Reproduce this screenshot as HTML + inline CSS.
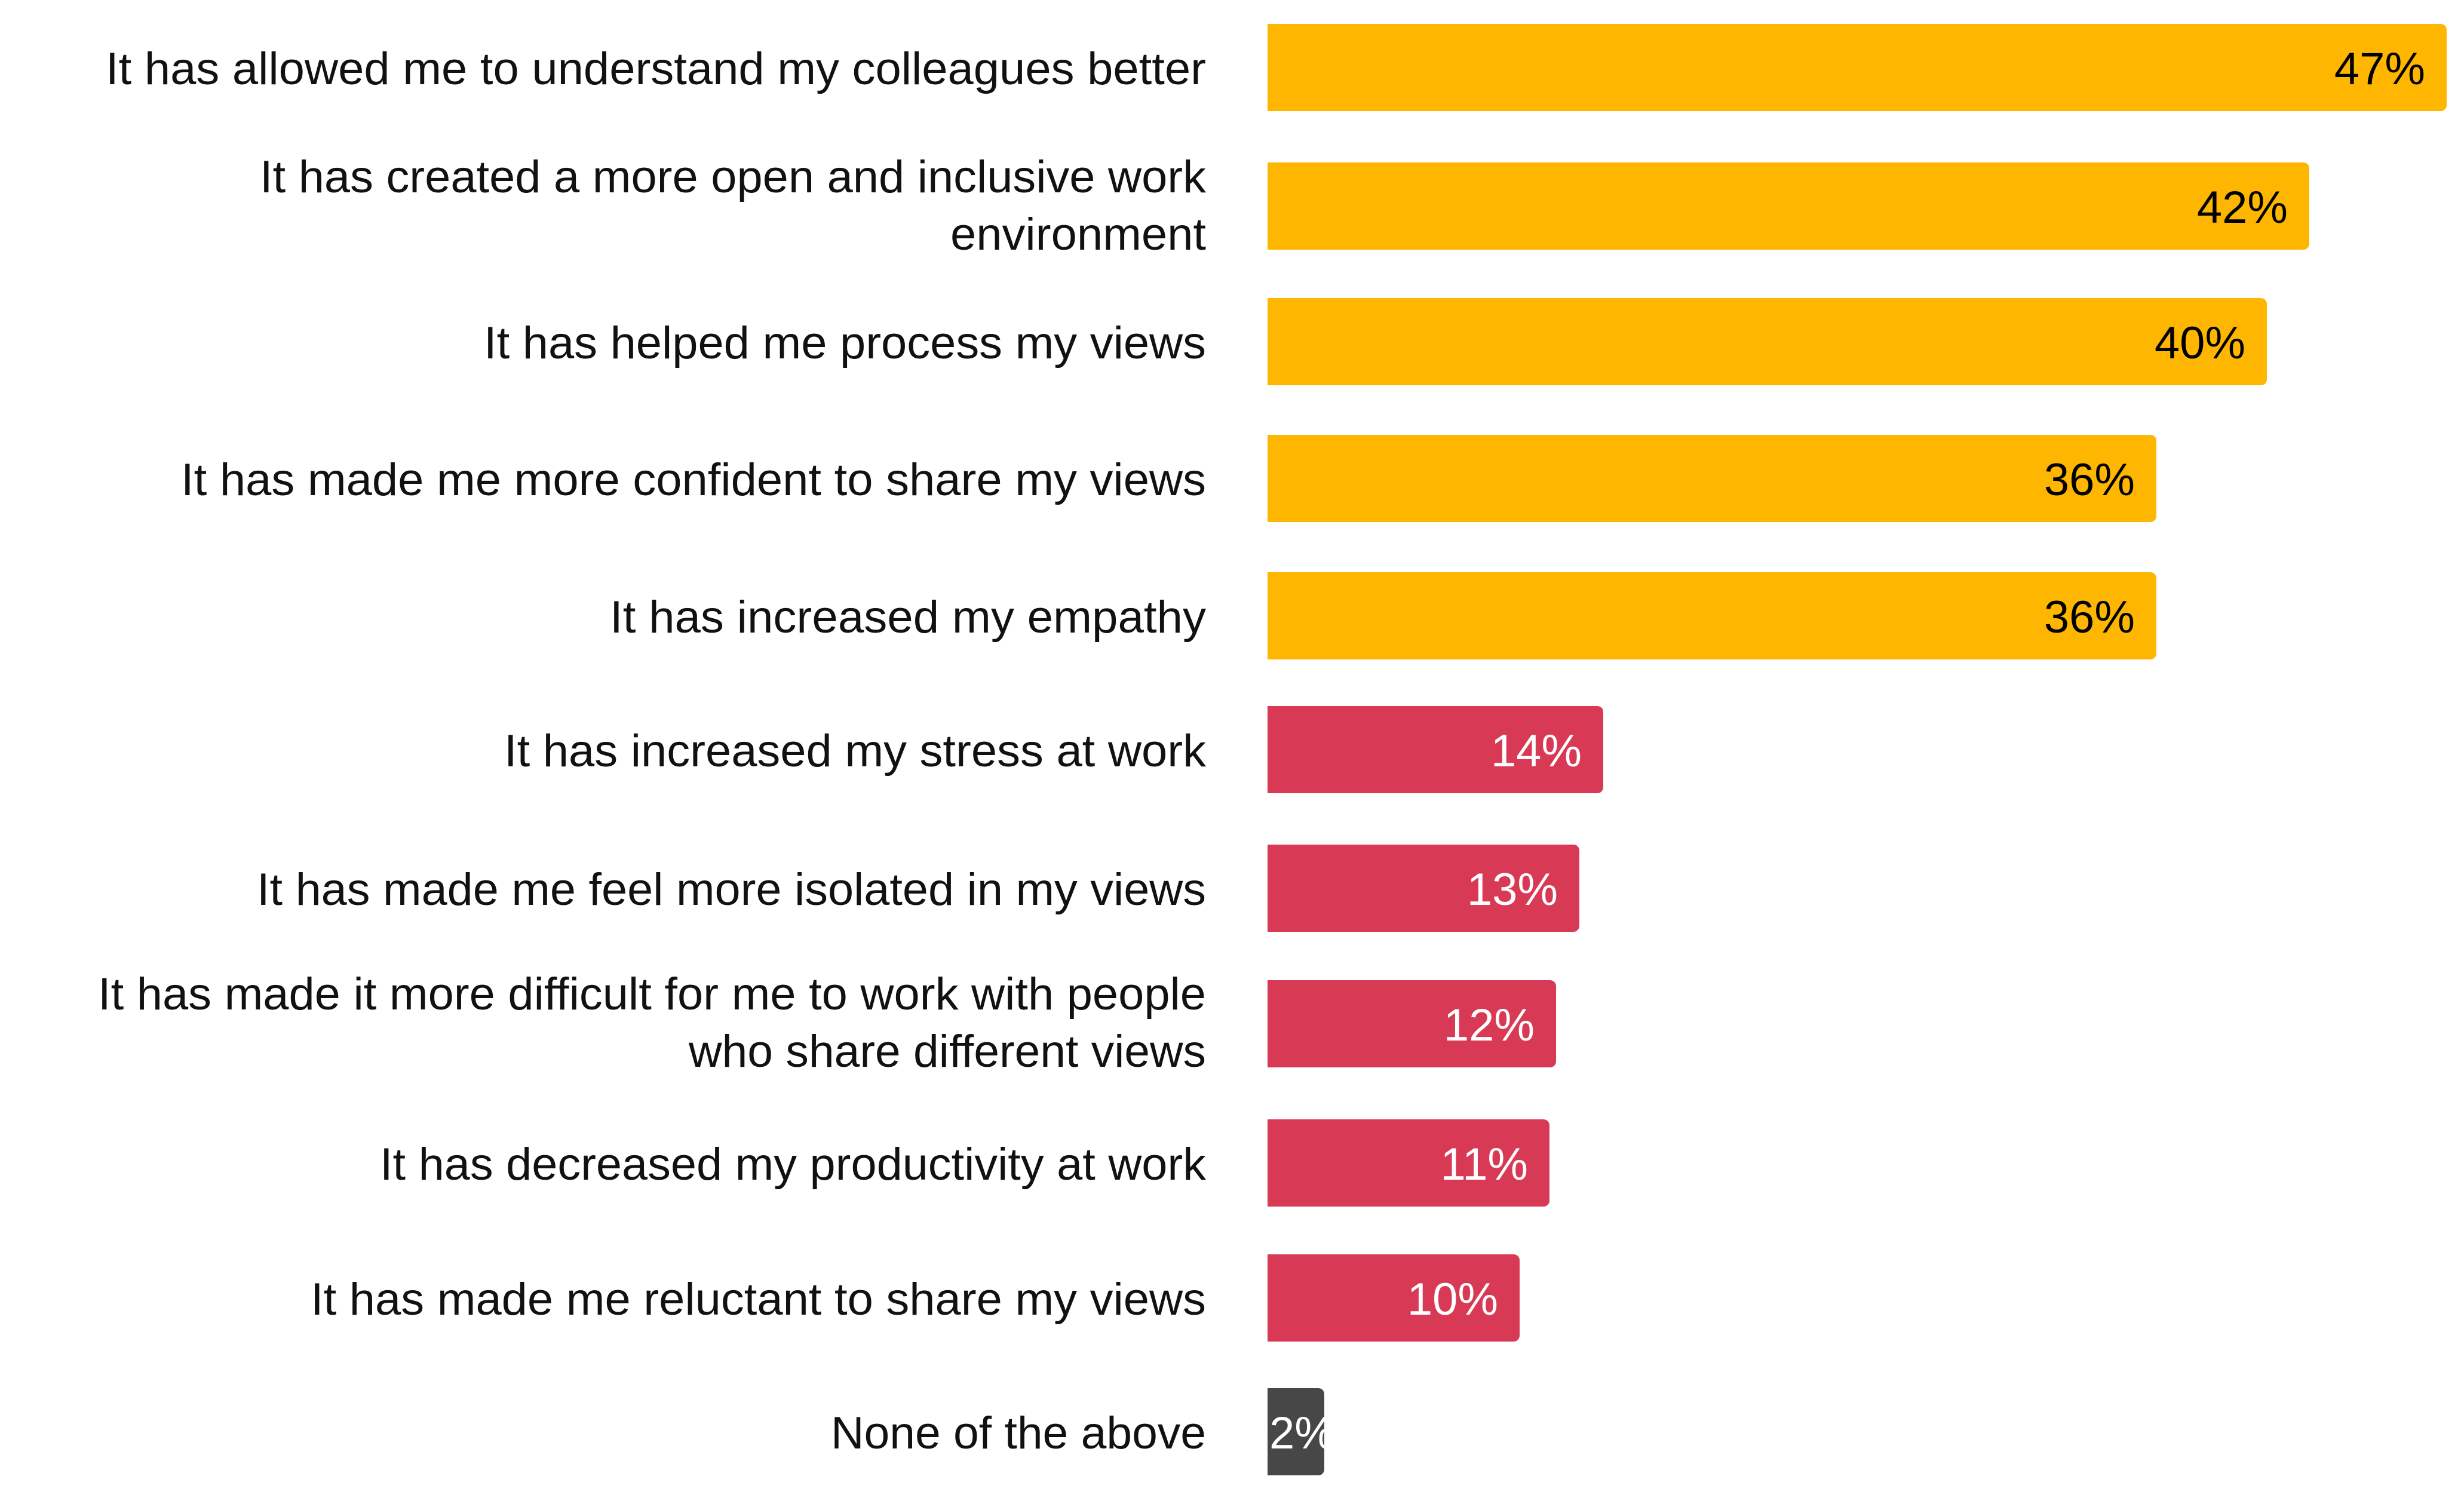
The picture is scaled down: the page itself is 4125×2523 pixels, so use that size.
<!DOCTYPE html>
<html><head><meta charset="utf-8"><style>html,body{margin:0;padding:0;background:#fff}svg{display:block}</style></head>
<body>
<svg width="4125" height="2523" viewBox="0 0 4125 2523" xmlns="http://www.w3.org/2000/svg" font-family="Liberation Sans, Arial, sans-serif" font-size="76">
<defs><clipPath id="c2"><rect x="2130" y="2324" width="95" height="146"/></clipPath></defs>
<g transform="translate(-8,0)">
<g>
<path d="M2130 40 H4094 a10 10 0 0 1 10 10 V176 a10 10 0 0 1 -10 10 H2130Z" fill="#FFB600"/>
<path d="M2130 272 H3864 a10 10 0 0 1 10 10 V408 a10 10 0 0 1 -10 10 H2130Z" fill="#FFB600"/>
<path d="M2130 499 H3793 a10 10 0 0 1 10 10 V635 a10 10 0 0 1 -10 10 H2130Z" fill="#FFB600"/>
<path d="M2130 728 H3608 a10 10 0 0 1 10 10 V864 a10 10 0 0 1 -10 10 H2130Z" fill="#FFB600"/>
<path d="M2130 958 H3608 a10 10 0 0 1 10 10 V1094 a10 10 0 0 1 -10 10 H2130Z" fill="#FFB600"/>
<path d="M2130 1182 H2682 a10 10 0 0 1 10 10 V1318 a10 10 0 0 1 -10 10 H2130Z" fill="#D83A56"/>
<path d="M2130 1414 H2642 a10 10 0 0 1 10 10 V1550 a10 10 0 0 1 -10 10 H2130Z" fill="#D83A56"/>
<path d="M2130 1641 H2603 a10 10 0 0 1 10 10 V1777 a10 10 0 0 1 -10 10 H2130Z" fill="#D83A56"/>
<path d="M2130 1874 H2592 a10 10 0 0 1 10 10 V2010 a10 10 0 0 1 -10 10 H2130Z" fill="#D83A56"/>
<path d="M2130 2100 H2542 a10 10 0 0 1 10 10 V2236 a10 10 0 0 1 -10 10 H2130Z" fill="#D83A56"/>
<path d="M2130 2324 H2215 a10 10 0 0 1 10 10 V2460 a10 10 0 0 1 -10 10 H2130Z" fill="#474747"/>
</g>
<g text-anchor="end" fill="#000">
<text x="4068" y="141">47%</text>
<text x="3838" y="373">42%</text>
<text x="3767" y="600">40%</text>
<text x="3582" y="829">36%</text>
<text x="3582" y="1059">36%</text>
</g>
<g text-anchor="end" fill="#fff">
<text x="2656" y="1283">14%</text>
<text x="2616" y="1515">13%</text>
<text x="2577" y="1742">12%</text>
<text x="2566" y="1975">11%</text>
<text x="2516" y="2201">10%</text>
</g>
<text x="2133" y="2425" fill="#fff" clip-path="url(#c2)">2%</text>
<g text-anchor="end" fill="#111">
<text x="2027" y="141" textLength="1842" lengthAdjust="spacingAndGlyphs">It has allowed me to understand my colleagues better</text>
<text x="2027" y="322" textLength="1584" lengthAdjust="spacingAndGlyphs">It has created a more open and inclusive work</text>
<text x="2027" y="418" textLength="428" lengthAdjust="spacingAndGlyphs">environment</text>
<text x="2027" y="600" textLength="1209" lengthAdjust="spacingAndGlyphs">It has helped me process my views</text>
<text x="2027" y="829" textLength="1716" lengthAdjust="spacingAndGlyphs">It has made me more confident to share my views</text>
<text x="2027" y="1059" textLength="998" lengthAdjust="spacingAndGlyphs">It has increased my empathy</text>
<text x="2027" y="1283" textLength="1175" lengthAdjust="spacingAndGlyphs">It has increased my stress at work</text>
<text x="2027" y="1515" textLength="1589" lengthAdjust="spacingAndGlyphs">It has made me feel more isolated in my views</text>
<text x="2027" y="1690" textLength="1855" lengthAdjust="spacingAndGlyphs">It has made it more difficult for me to work with people</text>
<text x="2027" y="1786" textLength="866" lengthAdjust="spacingAndGlyphs">who share different views</text>
<text x="2027" y="1975" textLength="1383" lengthAdjust="spacingAndGlyphs">It has decreased my productivity at work</text>
<text x="2027" y="2201" textLength="1499" lengthAdjust="spacingAndGlyphs">It has made me reluctant to share my views</text>
<text x="2027" y="2425" textLength="628" lengthAdjust="spacingAndGlyphs">None of the above</text>
</g>
</g>
</svg>
</body></html>
